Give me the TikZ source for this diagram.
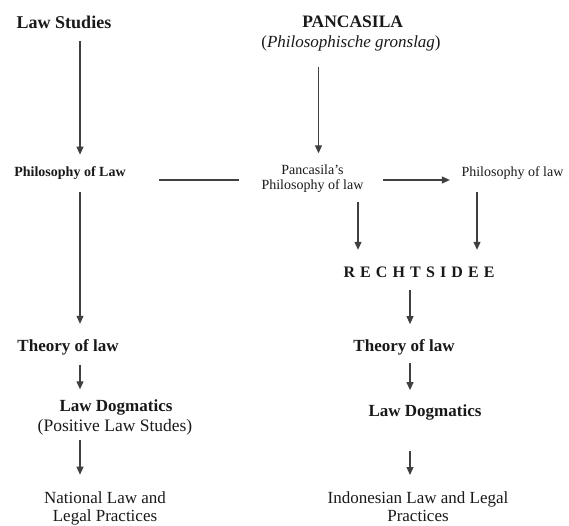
\documentclass[tikz,border=0pt]{standalone}
\usepackage{fontspec}
\setmainfont{Liberation Serif}
\newfontfamily\spacedfont[LetterSpace=32]{Liberation Serif}
\usepackage{tikz}
\usetikzlibrary{arrows.meta,calc}

\begin{document}
\begin{tikzpicture}[x=1pt, y=-1pt, >={Triangle[length=8pt,width=7pt]},
    every node/.style={inner sep=0pt, text=black!90},
    link/.style={draw=black!75, line width=1.1pt},
    head/.style={font=\fontsize{18}{20}\selectfont\bfseries},
    mid/.style={font=\fontsize{14}{14.5}\selectfont},
    low/.style={font=\fontsize{17}{18.5}\selectfont}]

    %% Background
    \draw[draw=none] (0,0) rectangle (569,526);

    % Columns and row of the connectors
    \coordinate (colA) at (80,0);
    \coordinate (colB) at (318.5,0);
    \coordinate (colC) at (358,0);
    \coordinate (colD) at (477,0);
    \coordinate (colE) at (410,0);
    \coordinate (rowH) at (0,180);

    % Left column
    \node[head, anchor=base] (lawstudies) at (64,28.5) {Law Studies};
    \node[mid, anchor=base] (philoL) at (70,176.7) {\textbf{Philosophy of Law}};
    \node[low, anchor=base] (theoryL) at (68,351) {\textbf{Theory of law}};
    \node[low, anchor=base] (dogmaL) at (116,411.3) {\textbf{Law Dogmatics}};
    \node[low, anchor=base, font=\fontsize{17.5}{19}\selectfont] (posL) at (115,431) {(Positive Law Studes)};
    \node[low, anchor=north, align=center] (natL) at (105,491) {National Law and\\Legal Practices};

    % Right column
    \node[head, anchor=base, font=\fontsize{17.5}{20}\selectfont\bfseries] (pancasila) at (352.7,28) {PANCASILA};
    \node[low, anchor=base] (gronslag) at (351,48) {(\textit{Philosophische gronslag})};
    \node[mid, anchor=north, align=center] (pancphil) at (312.5,165) {Pancasila's\\Philosophy of law};
    \node[mid, anchor=base] (philoR) at (512.5,176.7) {Philosophy of law};
    \node[anchor=base, font=\fontsize{16}{18}\spacedfont\bfseries] (rechts) at (419,277.3) {RECHTSIDEE};
    \node[low, anchor=base] (theoryR) at (404,351) {\textbf{Theory of law}};
    \node[low, anchor=base] (dogmaR) at (425,416.5) {\textbf{Law Dogmatics}};
    \node[low, anchor=north, align=center] (indoR) at (418,491) {Indonesian Law and Legal\\Practices};

    % Left connectors
    \draw[link, ->, shorten <=12pt, shorten >=12pt] (lawstudies.south -| colA) -- (philoL.north -| colA);
    \draw[link, ->, shorten <=12pt, shorten >=15pt] (philoL.south -| colA) -- (theoryL.north -| colA);
    \draw[link, ->, shorten <=9.7pt, shorten >=10pt] (theoryL.south -| colA) -- (dogmaL.north -| colA);
    \draw[link, ->, shorten <=5.2pt, shorten >=16.3pt] (posL.south -| colA) -- (natL.north -| colA);

    % Middle row
    \draw[link, shorten <=33.4pt, shorten >=22.5pt] (philoL.east |- rowH) -- (pancphil.west |- rowH);
    \draw[link, ->, shorten <=19.6pt, shorten >=11.5pt] (pancphil.east |- rowH) -- (philoR.west |- rowH);

    % Right connectors
    \draw[link, ->, shorten <=15pt, shorten >=11.7pt] (gronslag.south -| colB) -- (pancphil.north -| colB);
    \draw[link, ->, shorten <=9.7pt, shorten >=16.7pt] (pancphil.south -| colC) -- (rechts.north -| colC);
    \draw[link, ->, shorten <=12pt, shorten >=16.7pt] (philoR.south -| colD) -- (rechts.north -| colD);
    \draw[link, ->, shorten <=12.7pt, shorten >=14.7pt] (rechts.south -| colE) -- (theoryR.north -| colE);
    \draw[link, ->, shorten <=8.3pt, shorten >=14.4pt] (theoryR.south -| colE) -- (dogmaR.north -| colE);
    \draw[link, ->, shorten <=31pt, shorten >=16pt] (dogmaR.south -| colE) -- (indoR.north -| colE);

\end{tikzpicture}
\end{document}
